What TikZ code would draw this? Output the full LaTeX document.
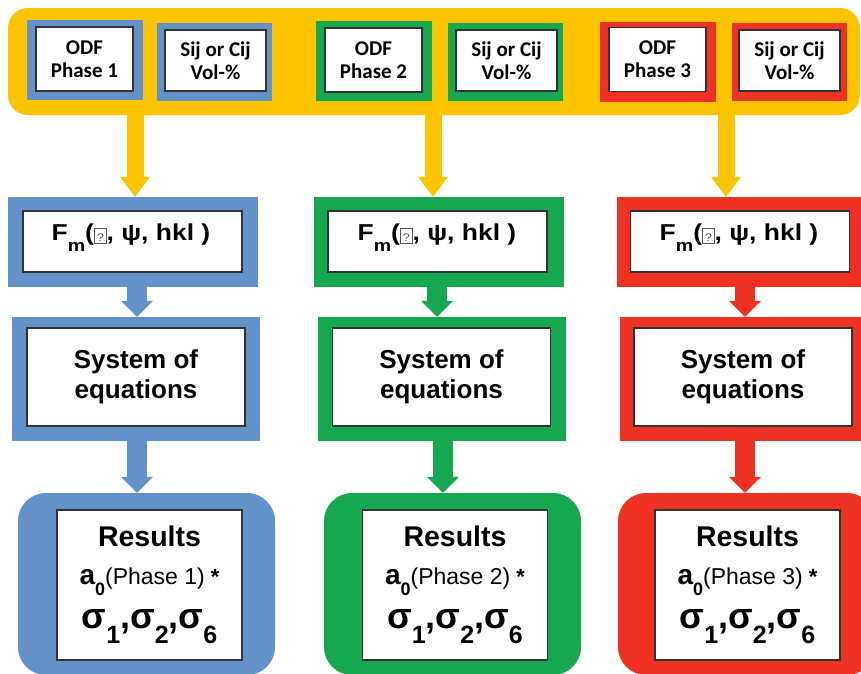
\documentclass[tikz,border=0pt]{standalone}
\usepackage{fontspec}
\setmainfont{Liberation Sans}
\newfontfamily\calib{Carlito}
\usetikzlibrary{arrows.meta}
\definecolor{cyel}{RGB}{252,196,0}
\definecolor{cblue}{RGB}{99,146,203}
\definecolor{cgreen}{RGB}{22,168,80}
\definecolor{cred}{RGB}{237,50,36}
\newcommand{\fsz}[1]{\fontsize{#1}{#1}\selectfont}
\newcommand{\qbox}{\raisebox{-1.5pt}{\setlength\fboxsep{1.6pt}\setlength\fboxrule{0.8pt}\color{black!65}\fbox{\rule{0pt}{11pt}\mdseries\fsz{11}?}}}
\newcommand{\fmtext}{\scalebox{1.15}[1]{\bfseries\fsz{23}F\raisebox{-11pt}[0pt][0pt]{\fsz{17}m}(\qbox, ψ, hkl )}}
\newcommand{\sg}[1]{σ\raisebox{-15pt}[0pt][0pt]{\fsz{25}#1}}
\newcommand{\aline}[1]{{\bfseries\fsz{28}a}\raisebox{-11pt}[0pt][0pt]{\bfseries\fsz{18}0}{\mdseries\fsz{23}(Phase #1)}\hspace{6pt}{\bfseries\fsz{22}*}}
\begin{document}
\begin{tikzpicture}[x=1pt,y=-1pt,
  outer/.style={rectangle, draw=none, inner sep=0pt},
  inbox/.style={rectangle, draw=black!80, line width=1.2pt, fill=white, inner sep=0pt, align=center},
  topbox/.style={inbox, font=\calib\bfseries\fontsize{21}{23}\selectfont},
  fmbox/.style={inbox, minimum width=219pt, minimum height=61pt},
  sysbox/.style={inbox, minimum width=218pt, minimum height=98pt, font=\bfseries\fontsize{26}{30}\selectfont},
  resbox/.style={inbox, minimum width=185pt, minimum height=150pt},
  odfo/.style={outer, minimum width=116pt, minimum height=80pt},
  odfi/.style={topbox, minimum width=97pt, minimum height=64pt},
  sijo/.style={outer, minimum width=115pt, minimum height=78pt},
  siji/.style={topbox, minimum width=101pt, minimum height=61pt},
  fmo/.style={outer, minimum width=250pt, minimum height=90pt},
  syso/.style={outer, minimum width=248pt, minimum height=124pt},
  reso/.style={outer, rounded corners=28pt, minimum width=257pt, minimum height=182pt},
  yarr/.style={draw=cyel, line width=17pt, -{Triangle[width=30pt,length=20pt,line width=0pt]}},
  carr/.style={line width=20pt, -{Triangle[width=32pt,length=16pt,line width=0pt]}},
  txt/.style={anchor=base, inner sep=0pt},
]
\useasboundingbox (0,0) rectangle (861,673);
\clip (0,0) rectangle (861,673);

% top bar
\node[outer, fill=cyel, rounded corners=20pt, minimum width=852pt, minimum height=107pt] (bar) at (434,61.5) {};

% top boxes
\node[odfo, fill=cblue] (b1o) at (85,60) {};
\node[odfi] (b1i) at (84.5,59) {ODF\\Phase 1};
\node[sijo, fill=cblue] (b2o) at (214.5,62) {};
\node[siji] (b2i) at (215.5,60.5) {Sij or Cij\\Vol-\%};
\node[odfo, fill=cgreen] (g1o) at (374,61) {};
\node[odfi] (g1i) at (373.5,60) {ODF\\Phase 2};
\node[sijo, fill=cgreen] (g2o) at (505.5,62) {};
\node[siji] (g2i) at (506.5,60.5) {Sij or Cij\\Vol-\%};
\node[odfo, fill=cred] (r1o) at (657.5,61.5) {};
\node[odfi] (r1i) at (657.5,59.5) {ODF\\Phase 3};
\node[sijo, fill=cred] (r2o) at (789.5,61.5) {};
\node[siji] (r2i) at (789.5,60.5) {Sij or Cij\\Vol-\%};

% F_m boxes
\node[fmo, fill=cblue] (fb) at (133,242) {};
\node[fmbox] (fbi) at (132.5,241.5) {};
\node[fmo, fill=cgreen] (fg) at (439,242) {};
\node[fmbox] (fgi) at (437.5,241.5) {};
\node[fmo, fill=cred] (fr) at (742,242) {};
\node[fmbox] (fri) at (740,241.5) {};
\node[txt] (fbt) at (131,240) {\fmtext};
\node[txt] (fgt) at (437,240) {\fmtext};
\node[txt] (frt) at (739,240) {\fmtext};

% system boxes
\node[syso, fill=cblue] (sb) at (136,379) {};
\node[sysbox] (sbi) at (136,377) {System of\\equations};
\node[syso, fill=cgreen] (sg) at (441.5,379) {};
\node[sysbox] (sgi) at (441.5,377) {System of\\equations};
\node[syso, fill=cred] (sr) at (744,379) {};
\node[sysbox] (sri) at (743,377) {System of\\equations};

% results boxes
\node[reso, fill=cblue] (rb) at (146.5,584) {};
\node[resbox] (rbi) at (149.5,585) {};
\node[reso, fill=cgreen] (rg) at (452.5,584) {};
\node[resbox] (rgi) at (455,585) {};
\node[reso, fill=cred] (rr) at (746.5,584) {};
\node[resbox] (rri) at (747.5,585) {};

\foreach \n/\x/\p in {b/149.5/1, g/455/2, r/747.5/3}{
  \node[txt, font=\bfseries\fsz{28.5}] (\n t1) at (\x,546) {Results};
  \node[txt] (\n t2) at (\x,584) {\aline{\p}};
  \node[txt, font=\bfseries\fsz{36}] (\n t3) at (\x,628) {\sg{1},\sg{2},\sg{6}};
}

% arrows
\coordinate (ya1) at (135,0);
\coordinate (ya2) at (433,0);
\coordinate (ya3) at (726,0);
\draw[yarr] (bar.south -| ya1) -- (ya1 |- fb.north);
\draw[yarr] (bar.south -| ya2) -- (ya2 |- fg.north);
\draw[yarr] (bar.south -| ya3) -- (ya3 |- fr.north);

\coordinate (cb1) at (137,0);
\coordinate (cg1) at (437,0);
\coordinate (cr1) at (745,0);
\coordinate (cb2) at (137,0);
\coordinate (cg2) at (443,0);
\coordinate (cr2) at (745,0);
\draw[carr, cblue] (fb.south -| cb1) -- (cb1 |- sb.north);
\draw[carr, cgreen] (fg.south -| cg1) -- (cg1 |- sg.north);
\draw[carr, cred] (fr.south -| cr1) -- (cr1 |- sr.north);
\draw[carr, cblue] (sb.south -| cb2) -- (cb2 |- rb.north);
\draw[carr, cgreen] (sg.south -| cg2) -- (cg2 |- rg.north);
\draw[carr, cred] (sr.south -| cr2) -- (cr2 |- rr.north);
\end{tikzpicture}
\end{document}
